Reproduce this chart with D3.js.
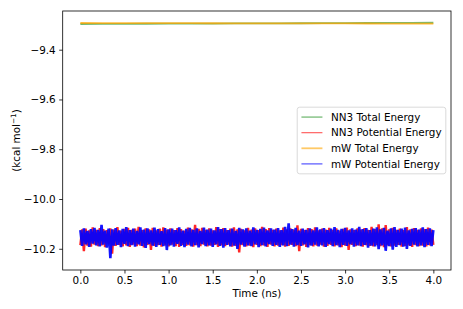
<!DOCTYPE html>
<html lang="en">
<head>
<meta charset="utf-8">
<title>Energy vs time</title>
<script src="https://d3js.org/d3.v7.min.js"></script>
<style>
  body { margin: 0; background: #fff; }
  svg { font-family: "DejaVu Sans", sans-serif; }
  .tick text { font-size: 10.4px; fill: #000; }
  .tick line { stroke: #000; stroke-width: 0.8; }
</style>
</head>
<body>
<svg id="chart"></svg>
<script>
// time between saved frames (ns)
var dt = 0.02;
var dtTotal = 0.25;

// total energies, one value every 0.25 ns
var nn3Total = [-9.2968, -9.2965, -9.2962, -9.2958, -9.2955, -9.2952, -9.2949, -9.2946,
                -9.2943, -9.2940, -9.2937, -9.2934, -9.2931, -9.2928, -9.2925, -9.2922, -9.2918];
var mwTotal  = [-9.2928, -9.2930, -9.2931, -9.2933, -9.2934, -9.2936, -9.2937, -9.2939,
                -9.2940, -9.2942, -9.2943, -9.2945, -9.2946, -9.2948, -9.2950, -9.2951, -9.2953];

// potential energies, one value every 0.02 ns
var nn3Pot = [
  -10.185, -10.122, -10.210, -10.119, -10.187, -10.126, -10.191, -10.114, -10.183, -10.124,
  -10.189, -10.117, -10.186, -10.121, -10.193, -10.125, -10.182, -10.118, -10.220, -10.123,
  -10.188, -10.113, -10.184, -10.127, -10.190, -10.120, -10.186, -10.116, -10.192, -10.124,
  -10.183, -10.119, -10.189, -10.112, -10.187, -10.125, -10.194, -10.118, -10.184, -10.122,
  -10.205, -10.116, -10.188, -10.126, -10.185, -10.119, -10.191, -10.114, -10.186, -10.123,
  -10.190, -10.118, -10.183, -10.125, -10.189, -10.117, -10.192, -10.121, -10.184, -10.127,
  -10.188, -10.115, -10.186, -10.122, -10.191, -10.104, -10.185, -10.120, -10.189, -10.116,
  -10.183, -10.124, -10.190, -10.118, -10.187, -10.126, -10.184, -10.113, -10.192, -10.121,
  -10.186, -10.117, -10.189, -10.125, -10.183, -10.119, -10.191, -10.114, -10.188, -10.122,
  -10.215, -10.120, -10.185, -10.126, -10.190, -10.116, -10.187, -10.123, -10.193, -10.118,
  -10.184, -10.125, -10.189, -10.112, -10.186, -10.121, -10.192, -10.117, -10.183, -10.124,
  -10.190, -10.119, -10.187, -10.126, -10.185, -10.115, -10.191, -10.122, -10.188, -10.118,
  -10.184, -10.123, -10.189, -10.106, -10.210, -10.120, -10.186, -10.125, -10.192, -10.117,
  -10.185, -10.121, -10.190, -10.114, -10.187, -10.126, -10.183, -10.119, -10.191, -10.123,
  -10.188, -10.116, -10.184, -10.124, -10.190, -10.118, -10.186, -10.127, -10.193, -10.120,
  -10.187, -10.115, -10.205, -10.122, -10.184, -10.125, -10.189, -10.118, -10.186, -10.123,
  -10.191, -10.117, -10.185, -10.124, -10.188, -10.112, -10.190, -10.121, -10.184, -10.102,
  -10.189, -10.118, -10.193, -10.105, -10.186, -10.122, -10.190, -10.116, -10.187, -10.124,
  -10.184, -10.119, -10.191, -10.125, -10.188, -10.113, -10.186, -10.122, -10.192, -10.117,
  -10.185, -10.124, -10.189, -10.118, -10.187, -10.121, -10.190, -10.115, -10.186, -10.123,
  -10.184
];
var mwPot = [
  -10.125, -10.188, -10.118, -10.182, -10.128, -10.192, -10.121, -10.179, -10.116, -10.186,
  -10.124, -10.190, -10.104, -10.183, -10.127, -10.195, -10.119, -10.238, -10.122, -10.187,
  -10.117, -10.184, -10.126, -10.193, -10.120, -10.180, -10.113, -10.189, -10.125, -10.185,
  -10.119, -10.191, -10.128, -10.182, -10.114, -10.188, -10.123, -10.196, -10.118, -10.181,
  -10.126, -10.187, -10.115, -10.192, -10.121, -10.184, -10.129, -10.189, -10.117, -10.205,
  -10.122, -10.186, -10.119, -10.191, -10.125, -10.180, -10.114, -10.188, -10.127, -10.193,
  -10.120, -10.183, -10.116, -10.190, -10.124, -10.185, -10.118, -10.194, -10.128, -10.181,
  -10.115, -10.189, -10.123, -10.186, -10.119, -10.192, -10.126, -10.182, -10.113, -10.188,
  -10.121, -10.195, -10.117, -10.184, -10.125, -10.190, -10.119, -10.187, -10.128, -10.200,
  -10.116, -10.183, -10.122, -10.191, -10.118, -10.186, -10.127, -10.189, -10.114, -10.182,
  -10.124, -10.193, -10.120, -10.185, -10.115, -10.190, -10.126, -10.181, -10.118, -10.188,
  -10.123, -10.184, -10.117, -10.192, -10.125, -10.186, -10.112, -10.189, -10.098, -10.183,
  -10.121, -10.191, -10.116, -10.185, -10.127, -10.188, -10.119, -10.182, -10.124, -10.194,
  -10.118, -10.187, -10.126, -10.183, -10.114, -10.190, -10.122, -10.186, -10.117, -10.192,
  -10.125, -10.181, -10.119, -10.189, -10.113, -10.185, -10.124, -10.193, -10.120, -10.184,
  -10.116, -10.188, -10.126, -10.182, -10.118, -10.191, -10.123, -10.186, -10.112, -10.189,
  -10.121, -10.184, -10.117, -10.195, -10.125, -10.187, -10.119, -10.190, -10.114, -10.201,
  -10.122, -10.186, -10.116, -10.208, -10.127, -10.189, -10.118, -10.204, -10.113, -10.192,
  -10.124, -10.185, -10.119, -10.191, -10.115, -10.200, -10.126, -10.188, -10.120, -10.183,
  -10.117, -10.190, -10.123, -10.186, -10.114, -10.193, -10.121, -10.184, -10.118, -10.189,
  -10.125
];

var xTicks = [0, 0.5, 1.0, 1.5, 2.0, 2.5, 3.0, 3.5, 4.0];
var yTicks = [-10.2, -10.0, -9.8, -9.6, -9.4];

var series = [
  { name: "NN3 Total Energy",     values: nn3Total, step: dtTotal, color: "green",  opacity: 0.55, width: 1.8, key: 1.6 },
  { name: "NN3 Potential Energy", values: nn3Pot,   step: dt,      color: "red",    opacity: 0.85, width: 2.4, key: 1.1 },
  { name: "mW Total Energy",      values: mwTotal,  step: dtTotal, color: "orange", opacity: 0.75, width: 1.8, key: 1.8 },
  { name: "mW Potential Energy",  values: mwPot,    step: dt,      color: "blue",   opacity: 0.92, width: 2.6, key: 1.1 }
];

var config = { w: 463, h: 309, left: 62.7, right: 451, top: 11, bottom: 270 };

var svg = d3.select("#chart").attr("width", config.w).attr("height", config.h);

// matplotlib style 5% margins around the data
function pad(ext) {
  var m = (ext[1] - ext[0]) * 0.05;
  return [ext[0] - m, ext[1] + m];
}

var tMax = d3.max(series, function(s) { return (s.values.length - 1) * s.step; });
var allY = [].concat.apply([], series.map(function(s) { return s.values; }));

var x = d3.scaleLinear().domain(pad([0, tMax])).range([config.left, config.right]);
var y = d3.scaleLinear().domain(pad(d3.extent(allY))).range([config.bottom, config.top]);

var plot = svg.append("g");

plot.append("clipPath").attr("id", "clip")
  .append("rect")
    .attr("x", config.left).attr("y", config.top)
    .attr("width", config.right - config.left)
    .attr("height", config.bottom - config.top);

var line = d3.line()
  .x(function(d) { return x(d.t); })
  .y(function(d) { return y(d.v); });

series.forEach(function(s) {
  var pts = s.values.map(function(v, i) { return { t: i * s.step, v: v }; });
  plot.append("path")
    .attr("clip-path", "url(#clip)")
    .attr("d", line(pts))
    .attr("fill", "none")
    .attr("stroke", s.color)
    .attr("stroke-opacity", s.opacity)
    .attr("stroke-width", s.width)
    .attr("stroke-linejoin", "bevel");
});

// axes
var xAxis = svg.append("g")
  .attr("transform", "translate(0," + config.bottom + ")")
  .call(d3.axisBottom(x).tickValues(xTicks).tickFormat(d3.format(".1f"))
    .tickSizeInner(3.5).tickSizeOuter(0).tickPadding(3.5));
xAxis.select(".domain").remove();

var yAxis = svg.append("g")
  .attr("transform", "translate(" + config.left + ",0)")
  .call(d3.axisLeft(y).tickValues(yTicks).tickFormat(d3.format(".1f"))
    .tickSizeInner(3.5).tickSizeOuter(0).tickPadding(3.5));
yAxis.select(".domain").remove();
svg.selectAll(".tick text").attr("font-family", "DejaVu Sans").attr("font-size", 10.4);

// frame
svg.append("rect")
  .attr("x", config.left).attr("y", config.top)
  .attr("width", config.right - config.left)
  .attr("height", config.bottom - config.top)
  .attr("fill", "none")
  .attr("stroke", "#000")
  .attr("stroke-width", 0.8);

// axis labels
svg.append("text")
  .attr("x", (config.left + config.right) / 2)
  .attr("y", 297)
  .attr("text-anchor", "middle")
  .attr("font-size", 10.4)
  .text("Time (ns)");

var yl = svg.append("text")
  .attr("transform", "translate(20," + (config.top + config.bottom) / 2 + ") rotate(-90)")
  .attr("text-anchor", "middle")
  .attr("font-size", 10.4);
yl.append("tspan").text("(kcal mol");
yl.append("tspan").attr("dy", -4).attr("font-size", 7.3).text("\u22121");
yl.append("tspan").attr("dy", 4).text(")");

// legend, center right
var fs = 10.4;
var legend = svg.append("g");
var box = legend.append("rect")
  .attr("fill", "#fff")
  .attr("fill-opacity", 0.8)
  .attr("stroke", "#d0d0d0")
  .attr("stroke-width", 0.8)
  .attr("rx", 2.5);

var rowH = 15.6;
var items = legend.selectAll("g.item")
  .data(series)
  .enter()
  .append("g")
  .attr("class", "item")
  .attr("transform", function(d, i) { return "translate(0," + i * rowH + ")"; });

items.append("line")
  .attr("x1", 0).attr("x2", 21)
  .attr("stroke", function(d) { return d.color; })
  .attr("stroke-opacity", function(d) { return d.opacity * 0.8; })
  .attr("stroke-width", function(d) { return d.key; });

items.append("text")
  .attr("x", 29.5)
  .attr("dy", "0.35em")
  .attr("font-size", fs)
  .text(function(d) { return d.name; });

var textW = d3.max(items.selectAll("text").nodes(), function(n) { return n.getComputedTextLength(); });
var bw = 4.2 + 29.5 + textW + 4.2;
var bh = (series.length - 1) * rowH + 2 * 4.2 + fs * 1.1;
var lx = config.right - 5.2 - bw;
var ly = (config.top + config.bottom) / 2 - bh / 2;
box.attr("x", -4.2).attr("y", -4.2 - fs * 0.55).attr("width", bw).attr("height", bh);
legend.attr("transform", "translate(" + (lx + 4.2) + "," + (ly + 4.2 + fs * 0.55) + ")");
</script>
</body>
</html>
